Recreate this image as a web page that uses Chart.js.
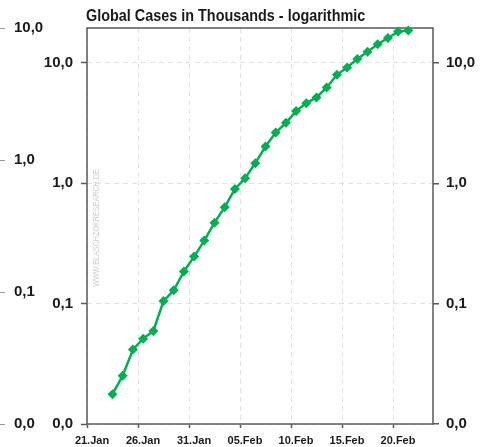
<!DOCTYPE html>
<html>
<head>
<meta charset="utf-8">
<script src="https://cdn.jsdelivr.net/npm/chart.js@4"></script>
<style>
  html, body { margin: 0; padding: 0; background: #fff; }
  #wrap { width: 485px; height: 447px; }
</style>
</head>
<body>
<div id="wrap"><canvas id="chart" width="485" height="447"></canvas></div>
<script>
// Dates of the observations (one per day)
const dates = [
  '2020-01-23', '2020-01-24', '2020-01-25', '2020-01-26', '2020-01-27',
  '2020-01-28', '2020-01-29', '2020-01-30', '2020-01-31', '2020-02-01',
  '2020-02-02', '2020-02-03', '2020-02-04', '2020-02-05', '2020-02-06',
  '2020-02-07', '2020-02-08', '2020-02-09', '2020-02-10', '2020-02-11',
  '2020-02-12', '2020-02-13', '2020-02-14', '2020-02-15', '2020-02-16',
  '2020-02-17', '2020-02-18', '2020-02-19', '2020-02-20', '2020-02-21'
];

// Global cases in thousands
const cases = [
  0.0177, 0.0252, 0.0415, 0.0512, 0.0593,
  0.105, 0.129, 0.185, 0.246, 0.334,
  0.471, 0.633, 0.898, 1.10, 1.47,
  2.02, 2.64, 3.18, 3.98, 4.63,
  5.16, 6.25, 7.96, 9.16, 10.8,
  12.4, 14.3, 16.1, 18.2, 18.6
];

// Axis ticks
const startDate = '2020-01-21';
const xTickDays = [0, 5, 10, 15, 20, 25, 30];
const xTickLabels = ['21.Jan', '26.Jan', '31.Jan', '05.Feb', '10.Feb', '15.Feb', '20.Feb'];
const yTicks = [0.01, 0.1, 1, 10];

const titleText = 'Global Cases in Thousands - logarithmic';
const watermark = 'WWW.BLASCHZOKRESEARCH.DE';

const FONT = "'Liberation Sans', Arial, sans-serif";
const TEXT = '#1a1a1a';
const GREEN = '#00b050';

const DAY = 24 * 3600 * 1000;
const t0 = Date.parse(startDate);
// each point sits in the middle of its day
const points = dates.map((d, i) => ({ x: (Date.parse(d) - t0) / DAY + 0.5, y: cases[i] }));

const fmt = v => Number(v).toFixed(1).replace('.', ',');
const setTicks = values => scale => { scale.ticks = values.map(v => ({ value: v })); };

const decor = {
  id: 'decor',
  beforeDatasetsDraw(chart) {
    const { ctx, chartArea: a } = chart;
    ctx.save();

    // plot frame
    ctx.strokeStyle = '#595959';
    ctx.lineWidth = 1.5;
    ctx.strokeRect(a.left, a.top, a.right - a.left, a.bottom - a.top);

    // title, squeezed like a narrow font
    ctx.save();
    ctx.translate(a.left - 1, 21);
    ctx.scale(0.9, 1);
    ctx.fillStyle = TEXT;
    ctx.font = "bold 16px " + FONT;
    ctx.textAlign = 'left';
    ctx.textBaseline = 'alphabetic';
    ctx.fillText(titleText, 0, 0);
    ctx.restore();

    // watermark
    ctx.translate(a.left + 10, (a.top + a.bottom) / 2 + 2);
    ctx.rotate(-Math.PI / 2);
    ctx.scale(0.8, 1);
    ctx.fillStyle = '#cdcdcd';
    ctx.font = "9px " + FONT;
    ctx.textAlign = 'center';
    ctx.textBaseline = 'middle';
    ctx.fillText(watermark, 0, 0);
    ctx.restore();

    // short tick marks of the outer left scale
    const outer = chart.scales.yOuter;
    ctx.save();
    ctx.strokeStyle = '#9a9a9a';
    ctx.lineWidth = 1;
    outer.ticks.forEach(t => {
      const y = Math.round(outer.getPixelForValue(t.value)) + 0.5;
      ctx.beginPath();
      ctx.moveTo(0, y);
      ctx.lineTo(5, y);
      ctx.stroke();
    });
    ctx.restore();
  }
};

const labelFont = { family: FONT, size: 15, weight: 'bold' };

new Chart(document.getElementById('chart').getContext('2d'), {
  type: 'line',
  data: {
    datasets: [{
      data: points,
      borderColor: GREEN,
      backgroundColor: GREEN,
      borderWidth: 2.5,
      pointStyle: 'rectRot',
      pointRadius: 5,
      pointBorderWidth: 0,
      tension: 0,
      clip: false
    }]
  },
  options: {
    responsive: false,
    animation: false,
    layout: { padding: { left: 14, right: 0, top: 28, bottom: 0 } },
    plugins: { legend: { display: false }, tooltip: { enabled: false } },
    scales: {
      x: {
        type: 'linear',
        min: 0,
        max: 33.92,
        afterBuildTicks: setTicks(xTickDays),
        afterFit: s => { s.height = 23; },
        border: { display: false, dash: [5, 4] },
        grid: {
          color: '#e2e2e2',
          tickLength: 4,
          tickColor: '#595959',
          tickWidth: 1.5
        },
        ticks: {
          color: TEXT,
          font: { family: FONT, size: 11, weight: 'bold' },
          padding: 6,
          labelOffset: 5,
          maxRotation: 0,
          callback: v => xTickLabels[xTickDays.indexOf(v)]
        }
      },
      y: {
        type: 'logarithmic',
        position: 'left',
        weight: 0,
        min: 0.01,
        max: 19.5,
        afterBuildTicks: setTicks(yTicks),
        afterFit: s => { s.width = 43; },
        border: { display: false, dash: [5, 4] },
        grid: {
          color: '#e2e2e2',
          tickLength: 6,
          tickColor: '#595959',
          tickWidth: 1.5
        },
        ticks: { color: TEXT, font: labelFont, padding: 8, callback: fmt }
      },
      yOuter: {
        type: 'logarithmic',
        position: 'left',
        weight: 1,
        min: 0.01,
        max: 10,
        afterBuildTicks: setTicks(yTicks),
        afterFit: s => { s.width = 30; },
        border: { display: false },
        grid: { display: false },
        ticks: { color: TEXT, font: labelFont, crossAlign: 'far', padding: 0, callback: fmt }
      },
      yRight: {
        type: 'logarithmic',
        position: 'right',
        min: 0.01,
        max: 19.5,
        afterBuildTicks: setTicks(yTicks),
        afterFit: s => { s.width = 52; },
        border: { display: false },
        grid: {
          drawOnChartArea: false,
          tickLength: 6,
          color: '#595959',
          lineWidth: 1.5
        },
        ticks: { color: TEXT, font: labelFont, padding: 7, callback: fmt }
      }
    }
  },
  plugins: [decor]
});
</script>
</body>
</html>
